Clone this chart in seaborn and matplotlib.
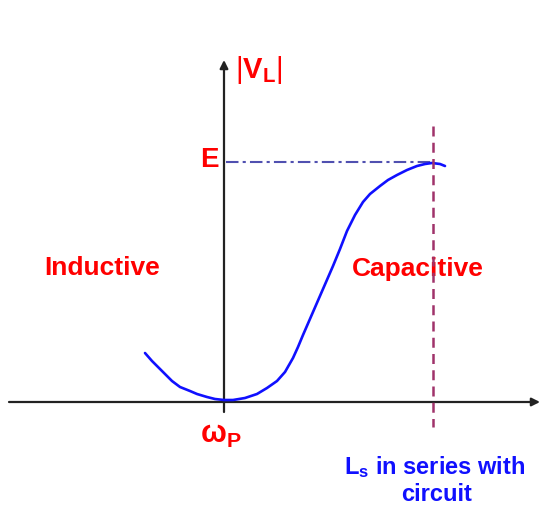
import matplotlib
matplotlib.use("Agg")
import matplotlib.pyplot as plt
import seaborn as sns
import pandas as pd

# frequency (relative to wP) and |V_L|
freq = [-0.79, -0.72, -0.61, -0.52, -0.44, -0.34, -0.27, -0.17, -0.09, 0.0,
        0.09, 0.21, 0.33, 0.43, 0.53, 0.61, 0.69, 0.74, 0.79, 0.89,
        0.99, 1.09, 1.16, 1.23, 1.31, 1.39, 1.46, 1.56, 1.64, 1.73,
        1.83, 1.93, 2.01, 2.08, 2.16, 2.21]
vl = [0.49, 0.41, 0.30, 0.21, 0.15, 0.11, 0.08, 0.05, 0.03, 0.02,
      0.02, 0.04, 0.08, 0.14, 0.21, 0.30, 0.44, 0.55, 0.67, 0.90,
      1.13, 1.36, 1.53, 1.71, 1.87, 2.00, 2.08, 2.16, 2.22, 2.27,
      2.32, 2.36, 2.38, 2.39, 2.38, 2.36]
e_level = 2.4
f_series = 2.09
region_labels = ["Inductive", "Capacitive"]

sns.set_theme(style="white")
plt.rcParams["font.family"] = ["Liberation Sans", "DejaVu Sans"]
plt.rcParams["mathtext.fontset"] = "custom"
plt.rcParams["mathtext.rm"] = "Liberation Sans"
plt.rcParams["mathtext.bf"] = "Liberation Sans:bold"
plt.rcParams["mathtext.it"] = "Liberation Sans:italic"

fig = plt.figure(figsize=(5.41, 5.06), dpi=100)
ax = fig.add_axes([0, 0, 1, 1])
ax.set_xlim(-2.24, 3.17)
ax.set_ylim(-1.03, 4.03)
ax.axis("off")

df = pd.DataFrame({"freq": freq, "vl": vl})

# axes with arrows
ax.annotate("", xy=(3.16, 0), xytext=(-2.15, 0),
            arrowprops=dict(arrowstyle="-|>", color="#222222", lw=1.6,
                            mutation_scale=12, shrinkA=0, shrinkB=0))
ax.annotate("", xy=(0, 3.42), xytext=(0, -0.10),
            arrowprops=dict(arrowstyle="-|>", color="#222222", lw=1.6,
                            mutation_scale=12, shrinkA=0, shrinkB=0))

# E reference level and series resonance marker
ax.plot([0.02, f_series], [e_level, e_level], color="#5050b0", lw=1.5,
        linestyle=(0, (6, 2, 1.5, 2)))

sns.lineplot(data=df, x="freq", y="vl", sort=False, color="#1010ff",
             lw=1.9, ax=ax, zorder=4)

ax.text(1.94, 1.34, region_labels[1], color="#ff0000", fontsize=19,
        fontweight="bold", ha="center", va="center", zorder=3)
ax.plot([f_series, f_series], [2.76, -0.25], color="#a0336a", lw=1.8,
        linestyle=(0, (4, 2.5)), zorder=5)

ax.text(-1.22, 1.35, region_labels[0], color="#ff0000", fontsize=19,
        fontweight="bold", ha="center", va="center")
ax.text(-0.15, 2.43, "E", color="#ff0000", fontsize=20,
        fontweight="bold", ha="center", va="center")
ax.text(0.35, 3.33, r"$|\mathbf{V}_\mathbf{L}|$", color="#ff0000",
        fontsize=21, ha="center", va="center")
ax.text(-0.03, -0.32, r"$\mathbf{\omega}_\mathbf{P}$", color="#ff0000",
        fontsize=22, ha="center", va="center")
ax.text(2.11, -0.64, r"$\mathbf{L}_\mathbf{s}$" + " in series with",
        color="#1010ff", fontsize=17, fontweight="bold",
        ha="center", va="center")
ax.text(2.13, -0.92, "circuit", color="#1010ff", fontsize=17,
        fontweight="bold", ha="center", va="center")

fig.savefig("out.png", dpi=100)
